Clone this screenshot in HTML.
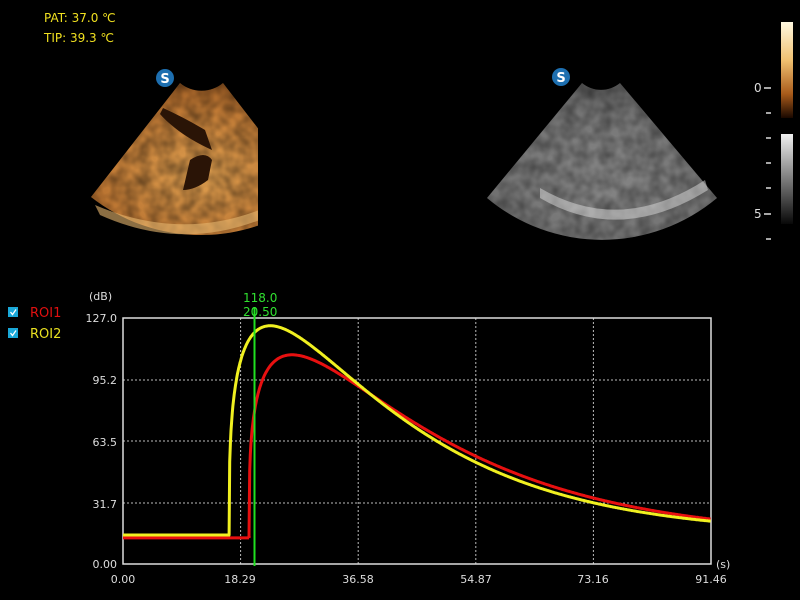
<!DOCTYPE html>
<html><head><meta charset="utf-8"><style>
html,body{margin:0;padding:0;background:#000;width:800px;height:600px;overflow:hidden}
svg{display:block}
text{font-family:"DejaVu Sans","Liberation Sans",sans-serif}
</style></head><body>
<svg id="s" width="800" height="600" viewBox="0 0 800 600" xmlns="http://www.w3.org/2000/svg">
<defs>
<linearGradient id="ob" x1="0" y1="0" x2="0" y2="1">
<stop offset="0" stop-color="#fff8e0"/><stop offset="0.4" stop-color="#f0c070"/><stop offset="0.75" stop-color="#a85a1a"/><stop offset="1" stop-color="#1a0800"/></linearGradient>
<linearGradient id="gb" x1="0" y1="0" x2="0" y2="1">
<stop offset="0" stop-color="#f0f0f0"/><stop offset="1" stop-color="#080808"/></linearGradient>
<radialGradient id="of" cx="0.5" cy="0.6" r="0.7">
<stop offset="0" stop-color="#e0a050"/><stop offset="0.7" stop-color="#b87230"/><stop offset="1" stop-color="#6a3a14"/></radialGradient>
<radialGradient id="gf" cx="0.5" cy="0.6" r="0.7">
<stop offset="0" stop-color="#888"/><stop offset="0.7" stop-color="#707070"/><stop offset="1" stop-color="#404040"/></radialGradient>
<filter id="tx"><feTurbulence type="fractalNoise" baseFrequency="0.08" numOctaves="2" seed="3"/><feColorMatrix values="0 0 0 0 0  0 0 0 0 0  0 0 0 0 0  0 0 0 -1.2 0.9"/><feComposite operator="in" in2="SourceGraphic"/></filter>
<clipPath id="cl"><rect x="0" y="0" width="258" height="300"/></clipPath>
</defs>
<text x="44" y="22" font-size="12" fill="#f0e020">PAT: 37.0 ℃</text>
<text x="44" y="42" font-size="12" fill="#f0e020">TIP:  39.3 ℃</text>

<g clip-path="url(#cl)">
<path d="M180,83 A33.6,33.6 0 0 0 223,83 L311,197 A178,178 0 0 1 91,197 Z" fill="url(#of)"/>
<path d="M180,83 A33.6,33.6 0 0 0 223,83 L311,197 A178,178 0 0 1 91,197 Z" fill="#000" filter="url(#tx)" opacity="0.55"/>
<path d="M163,108 Q185,118 205,130 L212,150 Q190,140 175,128 Q165,120 160,114 Z M190,160 Q205,150 212,160 L208,180 Q195,190 183,190 Z" fill="#2a1406"/>
<path d="M95,205 Q200,250 300,190 L300,200 Q200,260 100,215 Z" fill="#e8b870" opacity="0.6"/>
</g>
<path d="M582,83 A29.8,29.8 0 0 0 620,83 L717,198 A179,179 0 0 1 487,198 Z" fill="url(#gf)"/>
<path d="M582,83 A29.8,29.8 0 0 0 620,83 L717,198 A179,179 0 0 1 487,198 Z" fill="#000" filter="url(#tx)" opacity="0.5"/>
<path d="M540,188 Q620,235 705,180 L708,190 Q620,245 540,198 Z" fill="#ddd" opacity="0.5"/>
<circle cx="165" cy="78" r="9" fill="#1d6fb0"/><text x="165" y="83" font-size="13" font-weight="bold" fill="#fff" text-anchor="middle">S</text>
<circle cx="561" cy="77" r="9" fill="#1d6fb0"/><text x="561" y="82" font-size="13" font-weight="bold" fill="#fff" text-anchor="middle">S</text>

<rect x="781" y="22" width="12" height="96" fill="url(#ob)"/>
<rect x="781" y="134" width="12" height="90" fill="url(#gb)"/>
<g stroke="#ddd" stroke-width="1.5">
<line x1="764" y1="88" x2="771" y2="88"/><line x1="766" y1="113" x2="771" y2="113"/><line x1="766" y1="138" x2="771" y2="138"/><line x1="766" y1="163" x2="771" y2="163"/><line x1="766" y1="188" x2="771" y2="188"/><line x1="764" y1="214" x2="771" y2="214"/><line x1="766" y1="239" x2="771" y2="239"/></g>
<text x="754" y="92" font-size="12" fill="#ddd">0</text>
<text x="754" y="218" font-size="12" fill="#ddd">5</text>

<rect x="8" y="307" width="10" height="10" fill="#1aa8d8"/><path d="M10.5,312 L12.5,314.5 L16,309.5" stroke="#fff" stroke-width="1.3" fill="none"/>
<rect x="8" y="328" width="10" height="10" fill="#1aa8d8"/><path d="M10.5,333 L12.5,335.5 L16,330.5" stroke="#fff" stroke-width="1.3" fill="none"/>
<text x="30" y="317" font-size="13" fill="#e01010">ROI1</text>
<text x="30" y="338" font-size="13" fill="#e8e020">ROI2</text>

<text x="89" y="300" font-size="11" fill="#ddd">(dB)</text>
<g font-size="11" fill="#ddd" text-anchor="end">
<text x="117" y="322">127.0</text><text x="117" y="384">95.2</text><text x="117" y="446">63.5</text><text x="117" y="508">31.7</text><text x="117" y="568">0.00</text></g>
<g font-size="11" fill="#ddd" text-anchor="middle">
<text x="123" y="583">0.00</text><text x="240" y="583">18.29</text><text x="358" y="583">36.58</text><text x="476" y="583">54.87</text><text x="593" y="583">73.16</text><text x="711" y="583">91.46</text></g>
<text x="716" y="568" font-size="11" fill="#ddd">(s)</text>
<g stroke="#bbb" stroke-width="1" stroke-dasharray="2,2">
<line x1="123" y1="380" x2="711" y2="380"/><line x1="123" y1="441" x2="711" y2="441"/><line x1="123" y1="503" x2="711" y2="503"/>
<line x1="240.6" y1="318" x2="240.6" y2="564"/><line x1="358.2" y1="318" x2="358.2" y2="564"/><line x1="475.8" y1="318" x2="475.8" y2="564"/><line x1="593.4" y1="318" x2="593.4" y2="564"/></g>
<rect x="123" y="318" width="588" height="246" fill="none" stroke="#ddd" stroke-width="1.5"/>
<path id="red" fill="none" stroke="#e81010" stroke-width="3"/>
<path id="yel" fill="none" stroke="#f0f020" stroke-width="3"/>
<line x1="254.5" y1="307" x2="254.5" y2="566" stroke="#20e020" stroke-width="2"/>
<text x="243" y="302" font-size="12" fill="#30e030">118.0</text>
<text x="243" y="316" font-size="12" fill="#30e030">20.50</text>
</svg>
<script>
function X(t){return 123+t*588/91.46}
function Y(v){return 564-v*246/127}
function curve(base,t0,tp,A,a){
 var d="M"+X(0)+","+Y(base)+" L"+X(t0)+","+Y(base);
 for(var t=t0;t<=91.46;t+=0.1){var r=(t-t0)/tp;var f=r<=0?0:Math.pow(r,a)*Math.exp(a*(1-r));
  d+=" L"+X(t).toFixed(1)+","+Y(base+A*f).toFixed(1);}
 return d;}
document.getElementById("yel").setAttribute("d",curve(15,16.5,6.4,108,0.33));
document.getElementById("red").setAttribute("d",curve(13.5,19.6,6.7,94.5,0.31));
</script>
</body></html>
